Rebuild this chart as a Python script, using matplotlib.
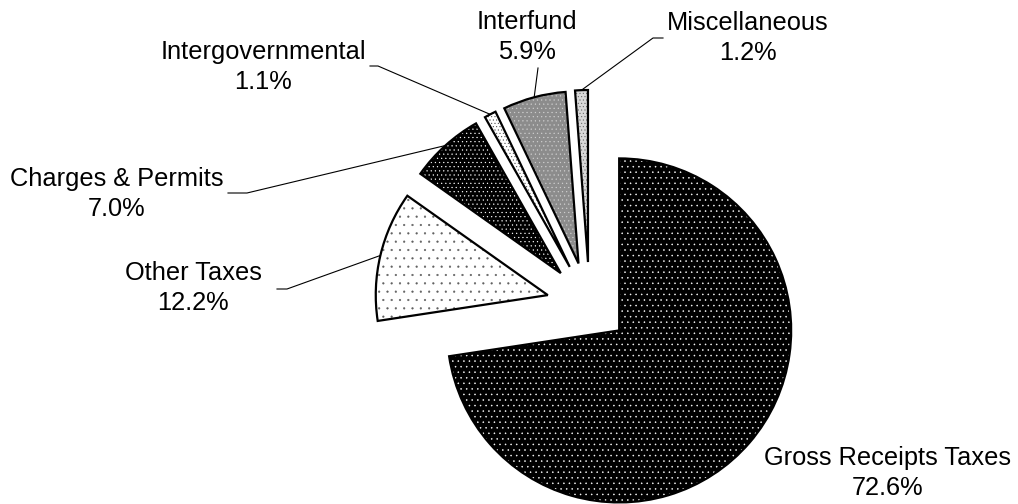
import matplotlib.pyplot as plt
import numpy as np

plt.rcParams['font.family'] = ['Liberation Sans', 'DejaVu Sans']
plt.rcParams['hatch.linewidth'] = 0.35

# ===================== 数据 =====================
categories = ['Gross Receipts Taxes', 'Other Taxes', 'Charges & Permits',
              'Intergovernmental', 'Interfund', 'Miscellaneous']
shares = [72.6, 12.2, 7.0, 1.1, 5.9, 1.2]

# ===================== 样式 =====================
W, H = 1018, 504
face_colors = ['black', 'white', 'black', 'white', '#8c8c8c', '#d8d8d8']
hatches = ['...', '..', '....', '.....', '....', '.....']
hatch_colors = ['white', '#606060', 'white', '#404040', '#d0d0d0', '#606060']
explode = [39, 43, 43, 43, 43, 43]   # 像素
pie_center = (589.6, H - 305)
pie_radius = 172

# 标签位置（像素，y向下）和引线起点 (x, y, 拐点x)
label_pos = [(888, 473), (193, 288), (117, 194), (263, 67), (527, 37), (748, 38)]
leader = [None, (277, 289, 287), (228, 193, 247), (370, 66, 378),
          (538, 68, 538), (663, 38, 653)]

fig = plt.figure(figsize=(W / 100, H / 100), dpi=100)
ax = fig.add_axes([0, 0, 1, 1])

# 第一遍：填充 + 花纹
fills, _ = ax.pie(shares, explode=explode, startangle=90, counterclock=False,
                  center=pie_center, radius=pie_radius, frame=True)
for w, fc, h, hc in zip(fills, face_colors, hatches, hatch_colors):
    w.set_facecolor(fc)
    w.set_hatch(h)
    w.set_edgecolor(hc)
    w.set_linewidth(0)

# 第二遍：黑色轮廓
outlines, _ = ax.pie(shares, explode=explode, startangle=90, counterclock=False,
                     center=pie_center, radius=pie_radius, frame=True,
                     wedgeprops=dict(fill=False, edgecolor='black', linewidth=1.6))

for i, w in enumerate(outlines):
    tx, ty = label_pos[i]
    ax.text(tx, H - ty, f"{categories[i]}\n{shares[i]:.1f}%", ha='center', va='center',
            fontsize=18.3, linespacing=1.3, color='black')
    if leader[i] is None:
        continue
    mid = np.deg2rad((w.theta1 + w.theta2) / 2)
    px = w.center[0] + w.r * np.cos(mid)
    py = w.center[1] + w.r * np.sin(mid)
    lx, ly, ex = leader[i]
    ax.plot([lx, ex, px], [H - ly, H - ly, py], color='black', lw=0.8)

ax.set_xlim(0, W)
ax.set_ylim(0, H)
ax.set_aspect('equal')
ax.axis('off')

plt.savefig('out.png', dpi=100)
